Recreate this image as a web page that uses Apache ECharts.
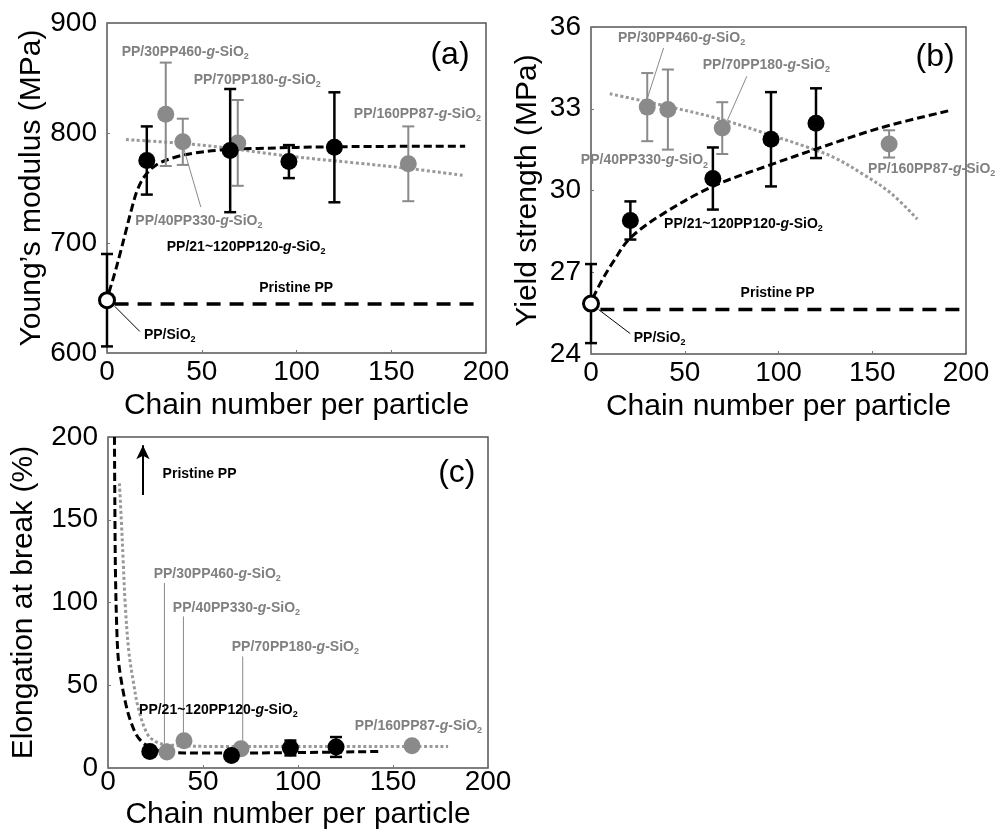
<!DOCTYPE html>
<html>
<head>
<meta charset="utf-8">
<script src="https://cdn.jsdelivr.net/npm/echarts@6/dist/echarts.min.js"></script>
<style>
html, body { margin: 0; padding: 0; background: #fff; }
#main { width: 998px; height: 832px; }
</style>
</head>
<body>
<div id="main"></div>
<script>
// [chain number, value, error]
const modBlack = [[21, 775, 31], [65, 784, 56], [96, 774, 15], [120, 787, 50]];
const modGray = [[31, 817, 47], [40, 792, 21], [69, 791, 39], [159, 772, 34]];
const modRef = [[0, 648, 42]];
const modFitBlack = [[1, 655], [4, 672], [7, 691], [10, 711], [13, 731], [16, 748], [20, 761], [26, 771], [35, 777.5], [45, 781.5], [60, 784.5], [80, 786], [120, 787.5], [189, 788]];
const modFitGray = [[10, 794], [50, 789], [96, 779], [130, 773], [158, 768], [188, 761.5]];
const modPristine = [[4, 644.5], [197, 644.5]];

const ysBlack = [[21, 28.9, 0.7], [65, 30.44, 1.14], [96, 31.88, 1.73], [120, 32.47, 1.28]];
const ysGray = [[30, 33.06, 1.25], [41, 32.97, 1.47], [70, 32.29, 0.95], [159, 31.71, 0.5]];
const ysRef = [[0, 25.85, 1.45]];
const ysFitBlack = [[1, 26.05], [5, 26.6], [12, 27.4], [21, 28.26], [39, 29.17], [65, 30.15], [96, 30.95], [120, 31.52], [154, 32.29], [191, 32.93]];
const ysFitGray = [[10, 33.55], [40, 33.1], [70, 32.6], [95, 32.05], [115, 31.6], [130, 31.2], [145, 30.6], [160, 29.9], [174, 28.95]];
const ysPristine = [[5, 25.63], [198.5, 25.63]];

const elBlack = [[22, 10, 0], [65, 7.6, 0], [96, 12.1, 4.5], [120, 12.7, 6]];
const elGray = [[31, 9.7, 0], [40, 16.5, 0], [70, 11.7, 0], [160, 13.5, 0]];
const elFitBlack = [[3.4, 200], [3.6, 160], [3.9, 120], [4.6, 85], [5.5, 65], [7.4, 50], [9.5, 38], [11.7, 29], [15, 20], [18.7, 15], [24, 11.5], [31, 9.5], [50, 9], [90, 9.2], [143, 10]];
const elFitGray = [[6, 172], [7, 150], [8, 125], [9.1, 98], [11, 70], [13.5, 51], [16, 36], [20.5, 21], [25, 16], [31, 14], [60, 13], [100, 13], [140, 13], [179, 13]];

const FONT = 'Liberation Sans, Arial, sans-serif';
const BLACK = '#000';
const GRAY = '#8a8a8a';
const GRAYTXT = '#808080';

// annotations: [grid, text, x, y, color]
const notes = [
    [0, 'PP/30PP460', 41.3, 872.7, GRAYTXT],
    [0, 'PP/70PP180', 79.3, 847.5, GRAYTXT],
    [0, 'PP/160PP87', 163.8, 816.6, GRAYTXT],
    [0, 'PP/40PP330', 48.5, 718.7, GRAYTXT],
    [0, 'PP/21~120PP120', 73.4, 695.5, BLACK],
    [0, 'Pristine PP', 99.8, 658.5, BLACK],
    [0, 'PP/SiO', 33.1, 615.1, BLACK],
    [1, 'PP/30PP460', 48.3, 35.56, GRAYTXT],
    [1, 'PP/70PP180', 93.5, 34.55, GRAYTXT],
    [1, 'PP/40PP330', 28.5, 31.06, GRAYTXT],
    [1, 'PP/160PP87', 181.7, 30.74, GRAYTXT],
    [1, 'PP/21~120PP120', 81.3, 28.74, BLACK],
    [1, 'Pristine PP', 99.5, 26.18, BLACK],
    [1, 'PP/SiO', 36.6, 24.55, BLACK],
    [2, 'Pristine PP', 48.2, 177.2, BLACK],
    [2, 'PP/30PP460', 57.5, 116.8, GRAYTXT],
    [2, 'PP/40PP330', 67.6, 96.1, GRAYTXT],
    [2, 'PP/70PP180', 98.6, 72.5, GRAYTXT],
    [2, 'PP/21~120PP120', 58.1, 34.6, BLACK],
    [2, 'PP/160PP87', 163.4, 24.8, GRAYTXT]
];
// leader lines: [grid, x1, y1, x2, y2, color]
const leaders = [
    [0, 40.7, 784.8, 49.5, 732.7, GRAY],
    [0, 4.1, 642.4, 17.3, 619.6, BLACK],
    [1, 38.7, 35.23, 29.8, 33.33, GRAY],
    [1, 83.1, 34.19, 72.5, 32.54, GRAY],
    [1, 4.05, 25.63, 20.9, 24.75, BLACK],
    [2, 29.7, 111.8, 29.7, 13.1, GRAY],
    [2, 39.7, 91.6, 39.7, 20.1, GRAY],
    [2, 70.9, 67.4, 70.9, 16.1, GRAY]
];
const panelTags = [[0, '(a)', 181, 870.3], [1, '(b)', 183.5, 34.91], [2, '(c)', 183.6, 178.4]];

const chart = echarts.init(document.getElementById('main'));

function errRender(color, w) {
    return function (params, api) {
        const x = api.value(0), y = api.value(1), e = api.value(2);
        if (!e) return null;
        const top = api.coord([x, y + e]);
        const bot = api.coord([x, y - e]);
        const hw = 6;
        const style = { stroke: color, lineWidth: w };
        return {
            type: 'group',
            children: [
                { type: 'line', shape: { x1: top[0], y1: top[1], x2: bot[0], y2: bot[1] }, style },
                { type: 'line', shape: { x1: top[0] - hw, y1: top[1], x2: top[0] + hw, y2: top[1] }, style },
                { type: 'line', shape: { x1: bot[0] - hw, y1: bot[1], x2: bot[0] + hw, y2: bot[1] }, style }
            ]
        };
    };
}

function xAx(i, margin, gap) {
    return {
        gridIndex: i, type: 'value', min: 0, max: 200, interval: 50,
        axisLine: { show: false },
        axisTick: { inside: true, length: 3, lineStyle: { color: '#777' } },
        splitLine: { show: false },
        axisLabel: { fontSize: 28, color: '#000', fontFamily: FONT, margin: margin },
        name: 'Chain number per particle', nameLocation: 'middle', nameGap: gap,
        nameTextStyle: { fontSize: 30, color: '#000', fontFamily: FONT }
    };
}
function yAx(i, min, max, step, name, gap) {
    return {
        gridIndex: i, type: 'value', min: min, max: max, interval: step,
        axisLine: { show: false },
        axisTick: { inside: true, length: 3, lineStyle: { color: '#777' } },
        splitLine: { show: false },
        axisLabel: { fontSize: 28, color: '#000', fontFamily: FONT, margin: 10 },
        name: name, nameLocation: 'middle', nameGap: gap,
        nameTextStyle: { fontSize: 30, color: '#000', fontFamily: FONT }
    };
}

function panelSeries(i, black, gray, ref, fitB, fitG, pristine) {
    const s = [];
    if (pristine) {
        s.push({ type: 'line', xAxisIndex: i, yAxisIndex: i, data: pristine, showSymbol: false, z: 2,
            lineStyle: { color: '#000', width: 3.5, type: [14, 9] } });
    }
    s.push({ type: 'line', xAxisIndex: i, yAxisIndex: i, data: fitG, showSymbol: false, smooth: 0.35, z: 2,
        lineStyle: { color: '#999', width: 3, type: [3, 2.5] } });
    s.push({ type: 'line', xAxisIndex: i, yAxisIndex: i, data: fitB, showSymbol: false, smooth: 0.35, z: 2,
        lineStyle: { color: '#000', width: 3, type: [8, 4] } });
    s.push({ type: 'custom', xAxisIndex: i, yAxisIndex: i, data: gray, renderItem: errRender(GRAY, 2), z: 3 });
    s.push({ type: 'scatter', xAxisIndex: i, yAxisIndex: i, data: gray, symbolSize: 17, z: 4,
        itemStyle: { color: GRAY, opacity: 1 } });
    s.push({ type: 'custom', xAxisIndex: i, yAxisIndex: i, data: black.concat(ref || []), renderItem: errRender('#000', 2.5), z: 5 });
    s.push({ type: 'scatter', xAxisIndex: i, yAxisIndex: i, data: black, symbolSize: 17, z: 6,
        itemStyle: { color: '#000', opacity: 1 } });
    if (ref) {
        s.push({ type: 'scatter', xAxisIndex: i, yAxisIndex: i, data: ref, symbolSize: 15, z: 7,
            itemStyle: { color: '#fff', borderColor: '#000', borderWidth: 3, opacity: 1 } });
    }
    return s;
}

const series = []
    .concat(panelSeries(0, modBlack, modGray, modRef, modFitBlack, modFitGray, modPristine))
    .concat(panelSeries(1, ysBlack, ysGray, ysRef, ysFitBlack, ysFitGray, ysPristine))
    .concat(panelSeries(2, elBlack, elGray, null, elFitBlack, elFitGray, null));

// arrow pointing to pristine PP (off scale) in (c)
series.push({
    type: 'line', xAxisIndex: 2, yAxisIndex: 2, data: [], z: 5,
    markLine: {
        silent: true, symbol: ['none', 'arrow'], symbolSize: [10, 14],
        label: { show: false },
        lineStyle: { color: '#000', width: 2, type: 'solid' },
        data: [[{ coord: [18.4, 165] }, { coord: [18.4, 195] }]]
    }
});

const gridStyle = { show: true, borderColor: '#555', borderWidth: 1.5, backgroundColor: 'transparent' };

chart.setOption({
    animation: false,
    backgroundColor: '#fff',
    grid: [
        Object.assign({ left: 107, top: 23, width: 379, height: 330 }, gridStyle),
        Object.assign({ left: 591, top: 27, width: 375, height: 327 }, gridStyle),
        Object.assign({ left: 108, top: 437, width: 380, height: 331 }, gridStyle)
    ],
    xAxis: [xAx(0, 5, 38), xAx(1, 5, 38), xAx(2, 0, 32)],
    yAxis: [
        yAx(0, 600, 900, 100, 'Young\u2019s modulus (MPa)', 60),
        yAx(1, 24, 36, 3, 'Yield strength (MPa)', 48),
        yAx(2, 0, 200, 50, 'Elongation at break (%)', 69)
    ],
    series: series
});

function chemRich(color) {
    const base = { fontFamily: FONT, fontSize: 14, fontWeight: 'bold', color: color, lineHeight: 16, verticalAlign: 'top' };
    return {
        n: base,
        i: Object.assign({}, base, { fontStyle: 'italic' }),
        s: Object.assign({}, base, { fontSize: 9, lineHeight: 7, verticalAlign: 'bottom' })
    };
}
function chemText(t) {
    if (t === 'Pristine PP') return '{n|Pristine PP}';
    if (t === 'PP/SiO') return '{n|PP/SiO}{s|2}';
    return '{n|' + t + '-}{i|g}{n|-SiO}{s|2}';
}

const graphics = [];
notes.forEach(function (n) {
    const p = chart.convertToPixel({ gridIndex: n[0] }, [n[2], n[3]]);
    graphics.push({
        type: 'text', x: p[0], y: p[1], z: 20,
        style: { text: chemText(n[1]), rich: chemRich(n[4]), align: 'center', verticalAlign: 'middle', fill: n[4] }
    });
});
leaders.forEach(function (l) {
    const a = chart.convertToPixel({ gridIndex: l[0] }, [l[1], l[2]]);
    const b = chart.convertToPixel({ gridIndex: l[0] }, [l[3], l[4]]);
    graphics.push({
        type: 'line', z: 3,
        shape: { x1: a[0], y1: a[1], x2: b[0], y2: b[1] },
        style: { stroke: l[5], lineWidth: 1 }
    });
});
panelTags.forEach(function (t) {
    const p = chart.convertToPixel({ gridIndex: t[0] }, [t[2], t[3]]);
    graphics.push({
        type: 'text', x: p[0], y: p[1], z: 20,
        style: { text: t[1], font: '32px ' + FONT, fill: '#000', align: 'center', verticalAlign: 'middle' }
    });
});

chart.setOption({ graphic: graphics });
</script>
</body>
</html>
